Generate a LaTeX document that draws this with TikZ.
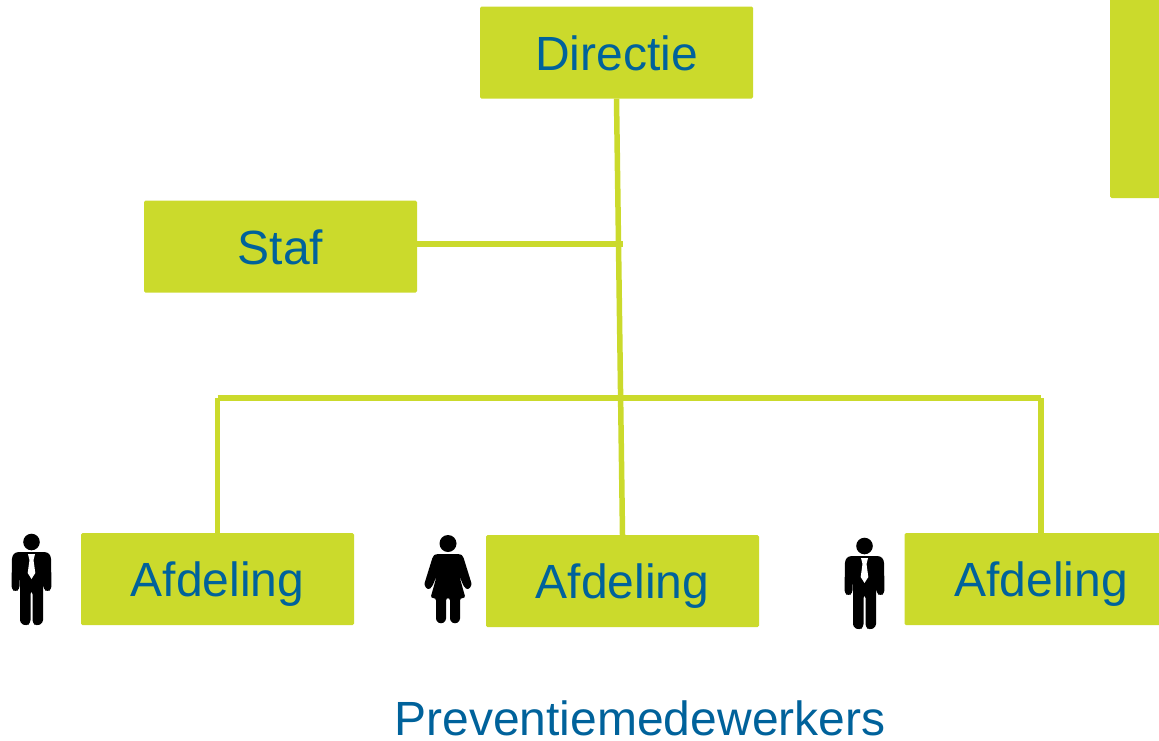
\documentclass[tikz,border=0pt]{standalone}
\usepackage{fontspec}
\setmainfont{Liberation Sans}
\usepackage{xcolor}
\usetikzlibrary{positioning}
\definecolor{lime}{HTML}{CBDA2C}
\definecolor{deepblue}{HTML}{00629B}
\tikzset{orgbox/.style={fill=lime, text=deepblue, rounded corners=1.5pt, minimum width=273pt, minimum height=92pt, inner sep=0pt, font=\fontsize{48}{50}\selectfont, text height=35pt, text depth=0pt},
  orgline/.style={draw=lime, line width=5.5pt},
  pics/man/.style={code={
    \fill (0,9) circle [radius=8.3];
    \fill[rounded corners=3pt] (-16,19) -- (16,19) -- (19.5,23) -- (20,56) -- (16,59) -- (12,56) -- (11.5,38) -- (11.5,90) -- (5,93) -- (1,90) -- (1,58) -- (-1,58) -- (-1,90) -- (-5,93) -- (-11.5,90) -- (-11.5,38) -- (-12,56) -- (-16,59) -- (-20,56) -- (-19.5,23) -- cycle;
    \fill[white] (-3.5,21) -- (3.5,21) -- (2,27) -- (3.8,40) -- (0,46) -- (-3.8,40) -- (-2,27) -- cycle;
  }},
  pics/woman/.style={code={
    \fill (0,8.5) circle [radius=8.5];
    \fill[rounded corners=2.5pt] (-12,19) -- (12,19) -- (15,21) -- (24,50) -- (20,55) -- (16,52) -- (11,40) -- (17.5,63) -- (12,63) -- (12,86) -- (7,89) -- (2,86) -- (2,63) -- (-2,63) -- (-2,86) -- (-7,89) -- (-12,86) -- (-12,63) -- (-17.5,63) -- (-11,40) -- (-16,52) -- (-20,55) -- (-24,50) -- (-15,21) -- cycle;
  }}}
\begin{document}
\begin{tikzpicture}[x=1pt, y=-1pt]
\useasboundingbox (0, 0) rectangle (1159, 740);
 % boxes
 \node[orgbox] (directie) at (616.5, 52.5) {Directie};
 \node[orgbox] (staf) at (280.5, 246.5) {Staf};
 \node[orgbox] (afd1) at (217.5, 579) {Afdeling};
 \node[orgbox] (afd2) at (622.5, 581) {Afdeling};
 \node[orgbox] (afd3) at (1041, 579) {Afdeling};
 \fill[lime, rounded corners=1.5pt] (1110, -5) rectangle (1170, 198);
 \clip (0, 0) rectangle (1159, 740);
 % lines
 \coordinate (stafjoin) at (622.5, 244);
 \coordinate (busleft) at (217.5, 398);
 \coordinate (busright) at (1041, 398);
 \draw[orgline] (directie.south) -- (afd2.north);
 \draw[orgline] (stafjoin) -- (stafjoin -| staf.east);
 \draw[orgline] (busleft) -- (busright);
 \draw[orgline] (busleft) -- (afd1.north);
 \draw[orgline] (busright) -- (afd3.north);
 % people
 \pic at (31.5, 533) {man};
 \pic at (448, 535) {woman};
 \pic at (864.5, 537) {man};
 \node[text=deepblue, font=\fontsize{48}{50}\selectfont, inner sep=0pt] (prev) at (640, 718) {Preventiemedewerkers};
\end{tikzpicture}
\end{document}
